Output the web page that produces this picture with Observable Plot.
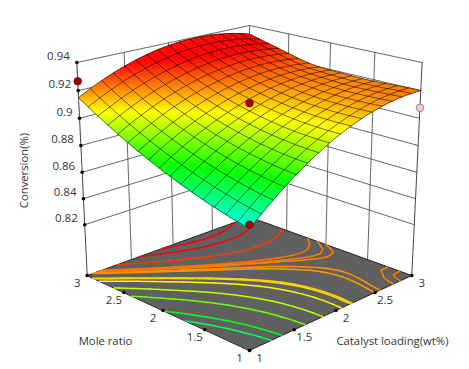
<!DOCTYPE html>
<html><head><meta charset="utf-8">
<script src="https://cdn.jsdelivr.net/npm/d3@7"></script>
<script src="https://cdn.jsdelivr.net/npm/@observablehq/plot@0.6"></script>
<style>html,body{margin:0;padding:0;background:#fff}svg{display:block}</style>
</head><body><div id="chart"></div>
<script>
// Axis tick labels
const conversionTicks = [0.82, 0.84, 0.86, 0.88, 0.9, 0.92, 0.94];
const moleTicks = [1, 1.5, 2, 2.5, 3];
const catalystTicks = [1, 1.5, 2, 2.5, 3];
// Conversion x 10^4 on a 21 x 21 table. Rows: mole ratio 1 -> 3, columns: catalyst loading 1 -> 3.
const conversionE4 = [
[8640,8696.5,8750,8800.5,8848,8892.5,8934,8972.5,9008,9040.5,9070,9096.5,9120,9140.5,9158,9172.5,9184,9192.5,9198,9200.5,9200],
[8654.1,8708.4,8759.9,8808.6,8854.4,8897.3,8937.4,8974.7,9009.1,9040.6,9069.4,9095.2,9118.3,9138.4,9155.8,9170.3,9181.9,9190.7,9196.6,9199.7,9200],
[8669.4,8721.8,8771.6,8818.5,8862.7,8904.2,8942.9,8978.9,9012.1,9042.6,9070.4,9095.4,9117.6,9137.2,9154,9168,9179.3,9187.8,9193.6,9196.7,9197],
[8685.9,8736.6,8784.7,8830,8872.8,8912.8,8950.2,8985,9017,9046.4,9073.2,9097.2,9118.6,9137.4,9153.5,9166.9,9177.6,9185.7,9191.2,9193.9,9194],
[8703.6,8752.7,8799.2,8843.2,8884.5,8923.2,8959.3,8992.8,9023.6,9051.9,9077.6,9100.7,9121.1,9139,9154.2,9166.9,9176.9,9184.3,9189.2,9191.4,9191],
[8722.5,8770.1,8815.2,8857.8,8897.7,8935.1,8970,9002.2,9032,9059.1,9083.8,9105.8,9125.3,9142.2,9156.6,9168.4,9177.6,9184.3,9188.4,9190,9189],
[8742.6,8788.9,8832.6,8873.8,8912.5,8948.7,8982.3,9013.4,9042,9068.1,9091.6,9112.6,9131.1,9147,9160.5,9171.4,9179.8,9185.6,9188.9,9189.7,9188],
[8763.9,8808.8,8851.3,8891.3,8928.7,8963.7,8996.2,9026.2,9053.7,9078.6,9101.2,9121.1,9138.7,9153.7,9166.2,9176.2,9183.8,9188.8,9191.4,9191.4,9189],
[8786.4,8830.1,8871.4,8910.2,8946.5,8980.4,9011.7,9040.6,9067,9090.9,9112.4,9131.4,9147.9,9162,9173.6,9182.7,9189.3,9193.4,9195.1,9194.3,9191],
[8810.1,8852.8,8893,8930.6,8965.9,8998.7,9028.9,9056.8,9082.2,9105,9125.4,9143.3,9158.7,9171.6,9182.1,9190.2,9195.6,9198.7,9199.3,9197.4,9193],
[8835,8876.7,8916,8952.8,8987,9018.8,9048,9074.8,9099.1,9120.7,9140,9156.7,9171,9182.8,9191.9,9198.7,9202.9,9204.8,9204,9200.7,9195],
[8861.1,8902,8940.4,8976.2,9009.5,9040.3,9068.5,9094.3,9117.5,9138.2,9156.3,9171.9,9185.1,9195.7,9203.7,9209.2,9212.2,9212.7,9210.7,9206.1,9199],
[8888.4,8928.5,8966,9001,9033.5,9063.3,9090.7,9115.4,9137.6,9157.4,9174.4,9189,9200.9,9210.4,9217.3,9221.6,9223.4,9222.6,9219.3,9213.4,9205],
[8916.9,8956.1,8992.7,9026.8,9058.3,9087.3,9113.7,9137.7,9159.1,9177.9,9194.2,9207.9,9219.1,9227.7,9233.8,9237.4,9238.4,9236.9,9232.8,9226.2,9217],
[8946.6,8984.9,9020.6,9053.9,9084.6,9112.6,9138.4,9161.5,9182,9200.1,9215.6,9228.7,9239.1,9247.1,9252.5,9255.4,9255.8,9253.7,9249,9241.8,9232],
[8977.5,9015,9049.8,9082.2,9112.2,9139.5,9164.4,9186.7,9206.6,9224,9238.8,9251.1,9260.9,9268.2,9273,9275.3,9275.1,9272.3,9267,9259.3,9249],
[9009.6,9046.3,9080.5,9112.2,9141.4,9168,9192.2,9213.8,9232.9,9249.5,9263.6,9275.2,9284.2,9290.7,9294.8,9296.2,9295.2,9291.7,9285.6,9277.1,9266],
[9042.9,9079,9112.7,9143.8,9172.3,9198.3,9221.8,9242.7,9261.1,9276.8,9290.2,9300.9,9309.1,9314.7,9317.8,9318.4,9316.4,9311.9,9304.8,9295.1,9283],
[9077.4,9113.2,9146.4,9177,9205,9230.4,9253.2,9273.4,9291,9306,9318.4,9328.2,9335.4,9339.9,9341.9,9341.2,9338,9332.2,9323.7,9312.7,9299],
[9113.1,9148.7,9181.6,9211.9,9239.4,9264.3,9286.5,9306,9322.8,9336.9,9348.3,9357.1,9363.2,9366.6,9367.2,9365.3,9360.6,9353.2,9343.2,9330.4,9315],
[9150,9185.5,9218.2,9248.2,9275.4,9299.8,9321.4,9340.2,9356.3,9369.5,9380,9387.7,9392.7,9394.8,9394.2,9390.8,9384.6,9375.6,9363.9,9349.3,9332]
];
// Contour levels on the floor
const contourLevels = [0.877, 0.883, 0.8945, 0.902, 0.9088, 0.9115, 0.912, 0.9172, 0.918, 0.9195, 0.9199, 0.9207, 0.9258, 0.9322, 0.9365];
// Design points
const pointCatalyst = [1, 2, 3, 1];
const pointMole = [3, 2, 1, 1];
const pointConversion = [0.9267, 0.911, 0.9076, 0.8667];
const pointKind = ["above", "above", "below", "above"];
const meshCells = 16;

const zFloor = 0.78, zTop = 0.94;
// Perspective camera of the 3-D box
function project(cat, mole, z) {
  const u = cat - 2, v = mole - 2, s = u - v, t = u + v, h = (z - zFloor) / (zTop - zFloor);
  const w = 1 + 0.0618 * t - 0.06 * h;
  return [249 + 81.15 * s / w, (275 - 15.85 * t - 216.7 * h) / w];
}
const px = (a) => project(a[0], a[1], a[2])[0];
const py = (a) => project(a[0], a[1], a[2])[1];

const N = conversionE4.length - 1;
const zAt = (i, j) => conversionE4[j][i] / 1e4;
const catAt = (i) => 1 + 2 * i / N, moleAt = (j) => 1 + 2 * j / N;
// value anywhere inside the table (fractional indices)
function zLookup(a, b) {
  const i = Math.min(N - 1, Math.floor(a)), j = Math.min(N - 1, Math.floor(b)), fx = a - i, fy = b - j;
  return (1 - fx) * (1 - fy) * zAt(i, j) + fx * (1 - fy) * zAt(i + 1, j) + (1 - fx) * fy * zAt(i, j + 1) + fx * fy * zAt(i + 1, j + 1);
}

// shaded patches, far to near
const SUB = 3, patches = [];
let pid = 0;
for (let j = N - 1; j >= 0; j--) for (let i = N - 1; i >= 0; i--) {
  const q = (a, b) => [catAt(i + a / SUB), moleAt(j + b / SUB), zLookup(i + a / SUB, j + b / SUB)];
  for (let b = SUB - 1; b >= 0; b--) for (let a = SUB - 1; a >= 0; a--) {
    const c = [q(a, b), q(a + 1, b), q(a + 1, b + 1), q(a, b + 1)];
    const zm = d3.mean(c, (d) => d[2]);
    pid++;
    c.forEach((d) => patches.push({p: d, id: pid, z: zm}));
  }
}
// mesh lines drawn over the patches
const mesh = [];
for (let k = 0; k <= meshCells; k++) {
  const g = k * N / meshCells;
  for (let m = 0; m <= N; m++) {
    mesh.push({p: [catAt(m), moleAt(g), zLookup(m, g)], id: "r" + k});
    mesh.push({p: [catAt(g), moleAt(m), zLookup(g, m)], id: "c" + k});
  }
}

// contour segments from the table
const segs = [];
for (const L of contourLevels) for (let j = 0; j < N; j++) for (let i = 0; i < N; i++) {
  const c = [[i, j], [i + 1, j], [i + 1, j + 1], [i, j + 1]];
  const hit = [];
  for (let k = 0; k < 4; k++) {
    const A = c[k], B = c[(k + 1) % 4], za = zAt(A[0], A[1]), zb = zAt(B[0], B[1]);
    if ((za < L) !== (zb < L)) {
      const f = (L - za) / (zb - za);
      hit.push([catAt(A[0] + f * (B[0] - A[0])), moleAt(A[1] + f * (B[1] - A[1])), zFloor]);
    }
  }
  for (let k = 0; k + 1 < hit.length; k += 2) segs.push({a: hit[k], b: hit[k + 1], L});
}

// walls
const wallLines = [];
conversionTicks.forEach((z) => {
  [[1, 3], [3, 3], [3, 1]].forEach((c) => wallLines.push({p: [c[0], c[1], z], id: "z" + z}));
});
[1.5, 2, 2.5].forEach((c) => {
  wallLines.push({p: [c, 3, zFloor], id: "a" + c}, {p: [c, 3, zTop], id: "a" + c});
  wallLines.push({p: [3, c, zFloor], id: "b" + c}, {p: [3, c, zTop], id: "b" + c});
});
wallLines.push({p: [3, 3, zFloor], id: "back"}, {p: [3, 3, zTop], id: "back"});
const axisLines = [
  {p: [1, 3, zFloor], id: "l"}, {p: [1, 3, zTop], id: "l"},
  {p: [3, 1, zFloor], id: "r"}, {p: [3, 1, zTop], id: "r"}
];
const floor = [[1, 1], [3, 1], [3, 3], [1, 3]].map((c) => ({p: [c[0], c[1], zFloor]}));

const zTickData = conversionTicks.map((z) => ({p: [1, 3, z], label: String(z)}));
const moleTickData = moleTicks.map((m) => ({p: [1, m, zFloor], label: String(m)}));
const catTickData = catalystTicks.map((c) => ({p: [c, 1, zFloor], label: String(c)}));
const points = pointCatalyst.map((c, i) => ({p: [c, pointMole[i], pointConversion[i]], kind: pointKind[i]}));

const font = "'Open Sans', sans-serif";
const X = (d) => px(d.p), Y = (d) => py(d.p);

const chart = Plot.plot({
  width: 469, height: 369, margin: 0,
  style: {background: "#fff", fontFamily: font},
  x: {domain: [0, 469], range: [0, 469], axis: null},
  y: {domain: [0, 369], range: [0, 369], axis: null},
  color: {type: "linear", domain: [0.862, 0.885, 0.908, 0.931], range: ["#00ffff", "#00ff00", "#ffff00", "#ff0000"], clamp: true, interpolate: "rgb"},
  marks: [
    Plot.line(wallLines, {x: X, y: Y, z: "id", stroke: "#555", strokeWidth: 0.9}),
    Plot.line(axisLines, {x: X, y: Y, z: "id", stroke: "#444", strokeWidth: 1}),
    Plot.line(floor, {x: X, y: Y, fill: "#606060", stroke: "#222", strokeWidth: 1, curve: "linear-closed"}),
    Plot.link(segs, {x1: (d) => px(d.a), y1: (d) => py(d.a), x2: (d) => px(d.b), y2: (d) => py(d.b), stroke: "L", strokeWidth: 1.5, strokeLinecap: "round"}),
    Plot.line(patches, {x: X, y: Y, z: "id", fill: "z", stroke: "z", strokeWidth: 0.5, curve: "linear-closed"}),
    Plot.line(mesh, {x: X, y: Y, z: "id", stroke: "#000", strokeOpacity: 0.68, strokeWidth: 0.8}),
    Plot.dot(zTickData, {x: X, y: Y, r: 1.8, fill: "#000"}),
    Plot.dot(moleTickData, {x: X, y: Y, r: 1.8, fill: "#000"}),
    Plot.dot(catTickData, {x: X, y: Y, r: 1.8, fill: "#000"}),
    Plot.dot(points.filter((d) => d.kind === "above"), {x: X, y: Y, r: 3.8, fill: "#a80000", stroke: "#5a1010", strokeWidth: 0.8}),
    Plot.dot(points.filter((d) => d.kind === "below"), {x: X, y: Y, r: 3.8, fill: "#ffc8c8", stroke: "#777", strokeWidth: 0.8}),
    Plot.text(zTickData, {x: X, y: Y, text: "label", dx: -7, dy: -6, textAnchor: "end", fontSize: 11.5, fill: "#333"}),
    Plot.text(moleTickData, {x: X, y: Y, text: "label", dx: -10, dy: 8, textAnchor: "middle", fontSize: 11.5, fill: "#333"}),
    Plot.text(catTickData, {x: X, y: Y, text: "label", dx: 10, dy: 8, textAnchor: "middle", fontSize: 11.5, fill: "#333"}),
    Plot.text(["Mole ratio"], {frameAnchor: "top-left", dx: 105, dy: 341, text: (d) => d, textAnchor: "middle", lineAnchor: "middle", fontSize: 11.3, fill: "#333"}),
    Plot.text(["Catalyst loading(wt%)"], {frameAnchor: "top-left", dx: 392, dy: 341, text: (d) => d, textAnchor: "middle", lineAnchor: "middle", fontSize: 11.3, fill: "#333"}),
    Plot.text(["Conversion(%)"], {frameAnchor: "top-left", dx: 24, dy: 170, rotate: -90, text: (d) => d, textAnchor: "middle", lineAnchor: "middle", fontSize: 11.3, fill: "#333"})
  ]
});
document.getElementById("chart").appendChild(chart);
</script></body></html>
